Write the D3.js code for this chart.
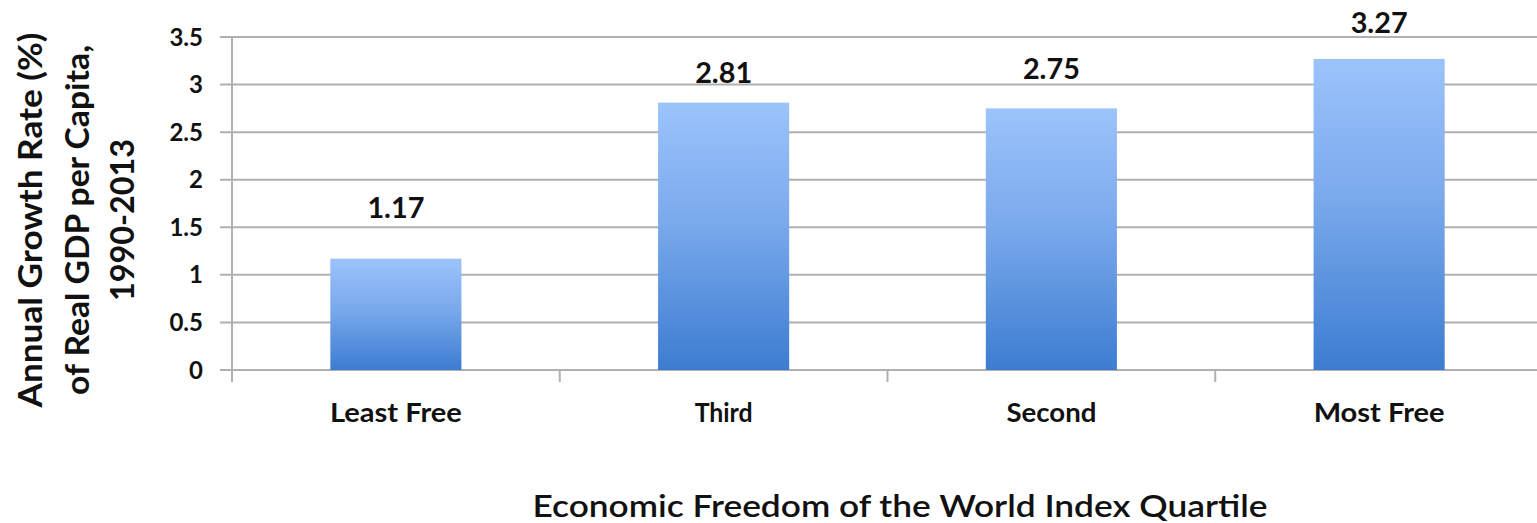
<!DOCTYPE html>
<html><head><meta charset="utf-8">
<script src="https://cdn.jsdelivr.net/npm/d3@7"></script>
<style>body{margin:0;background:#fff}svg{display:block}text{font-family:Lato,"Open Sans",sans-serif;fill:#111}</style>
</head><body>
<svg id="c" width="1537" height="523"></svg>
<script>
const categories = ["Least Free", "Third", "Second", "Most Free"];
const values = [1.17, 2.81, 2.75, 3.27];
const valueLabels = ["1.17", "2.81", "2.75", "3.27"];
const yTicks = [0, 0.5, 1, 1.5, 2, 2.5, 3, 3.5];
const yTickLabels = ["0", "0.5", "1", "1.5", "2", "2.5", "3", "3.5"];
const yTitleLines = ["Annual Growth Rate (%)", "of Real GDP per Capita,", "1990-2013"];
const xTitle = "Economic Freedom of the World Index Quartile";

// styling: label gaps above bar tops and text widths as seen in the reference
const labelGap = [41, 20, 29, 26];
const catWidths = [132, 58, 90, 131];
const yTitleWidths = [375, 350, 162];

const svg = d3.select("#c");
const x = d3.scaleBand().domain(categories).range([232, 1543]).paddingInner(0).paddingOuter(0);
const y = d3.scaleLinear().domain([0, 3.5]).range([370, 37]);
const barW = x.bandwidth() * 0.4;

const defs = svg.append("defs");
const g = defs.append("linearGradient").attr("id", "bg").attr("x1", 0).attr("y1", 0).attr("x2", 0).attr("y2", 1);
g.append("stop").attr("offset", "0%").attr("stop-color", "#9cc3fb");
g.append("stop").attr("offset", "45%").attr("stop-color", "#7aa9ec");
g.append("stop").attr("offset", "100%").attr("stop-color", "#3d7cd1");

// gridlines
svg.append("g").selectAll("line").data(yTicks).join("line")
  .attr("x1", 220).attr("x2", 1537)
  .attr("y1", d => y(d)).attr("y2", d => y(d))
  .attr("stroke", "#b0b0b0").attr("stroke-width", 2);

// y axis line
svg.append("line").attr("x1", 232).attr("x2", 232).attr("y1", y(3.5)).attr("y2", y(0) + 12)
  .attr("stroke", "#b0b0b0").attr("stroke-width", 2);

// x category tick marks
const bounds = categories.map(c => x(c) + x.bandwidth());
svg.append("g").selectAll("line").data(bounds).join("line")
  .attr("x1", d => d).attr("x2", d => d).attr("y1", y(0)).attr("y2", y(0) + 12)
  .attr("stroke", "#b0b0b0").attr("stroke-width", 2);

// bars
svg.append("g").selectAll("rect").data(values).join("rect")
  .attr("x", (d, i) => x(categories[i]) + (x.bandwidth() - barW) / 2)
  .attr("width", barW)
  .attr("y", d => y(d))
  .attr("height", d => y(0) - y(d))
  .attr("fill", "url(#bg)");

// value labels
svg.append("g").selectAll("text").data(values).join("text")
  .attr("x", (d, i) => x(categories[i]) + x.bandwidth() / 2)
  .attr("y", (d, i) => y(d) - labelGap[i])
  .attr("text-anchor", "middle").attr("font-weight", 700).attr("font-size", 28)
  .attr("textLength", 57).attr("lengthAdjust", "spacingAndGlyphs")
  .text((d, i) => valueLabels[i]);

// y tick labels
svg.append("g").selectAll("text").data(yTicks).join("text")
  .attr("x", 203).attr("y", d => y(d) + 8.5)
  .attr("text-anchor", "end").attr("font-weight", 700).attr("font-size", 24)
  .text((d, i) => yTickLabels[i]);

// category labels
svg.append("g").selectAll("text").data(categories).join("text")
  .attr("x", d => x(d) + x.bandwidth() / 2).attr("y", 422)
  .attr("text-anchor", "middle").attr("font-weight", 700).attr("font-size", 26)
  .attr("textLength", (d, i) => catWidths[i]).attr("lengthAdjust", "spacingAndGlyphs")
  .text(d => d);

// y title
const yBase = [42, 89, 134];
const yCenter = 220;
svg.append("g").selectAll("text").data(yTitleLines).join("text")
  .attr("transform", (d, i) => `translate(${yBase[i]},${yCenter}) rotate(-90)`)
  .attr("text-anchor", "middle").attr("font-weight", 700).attr("font-size", 32)
  .attr("textLength", (d, i) => yTitleWidths[i]).attr("lengthAdjust", "spacingAndGlyphs")
  .text(d => d);

// x title
svg.append("text").attr("x", 900).attr("y", 517).attr("text-anchor", "middle")
  .attr("font-weight", 600).attr("font-size", 31)
  .attr("textLength", 735).attr("lengthAdjust", "spacingAndGlyphs")
  .text(xTitle);
</script>
</body></html>
